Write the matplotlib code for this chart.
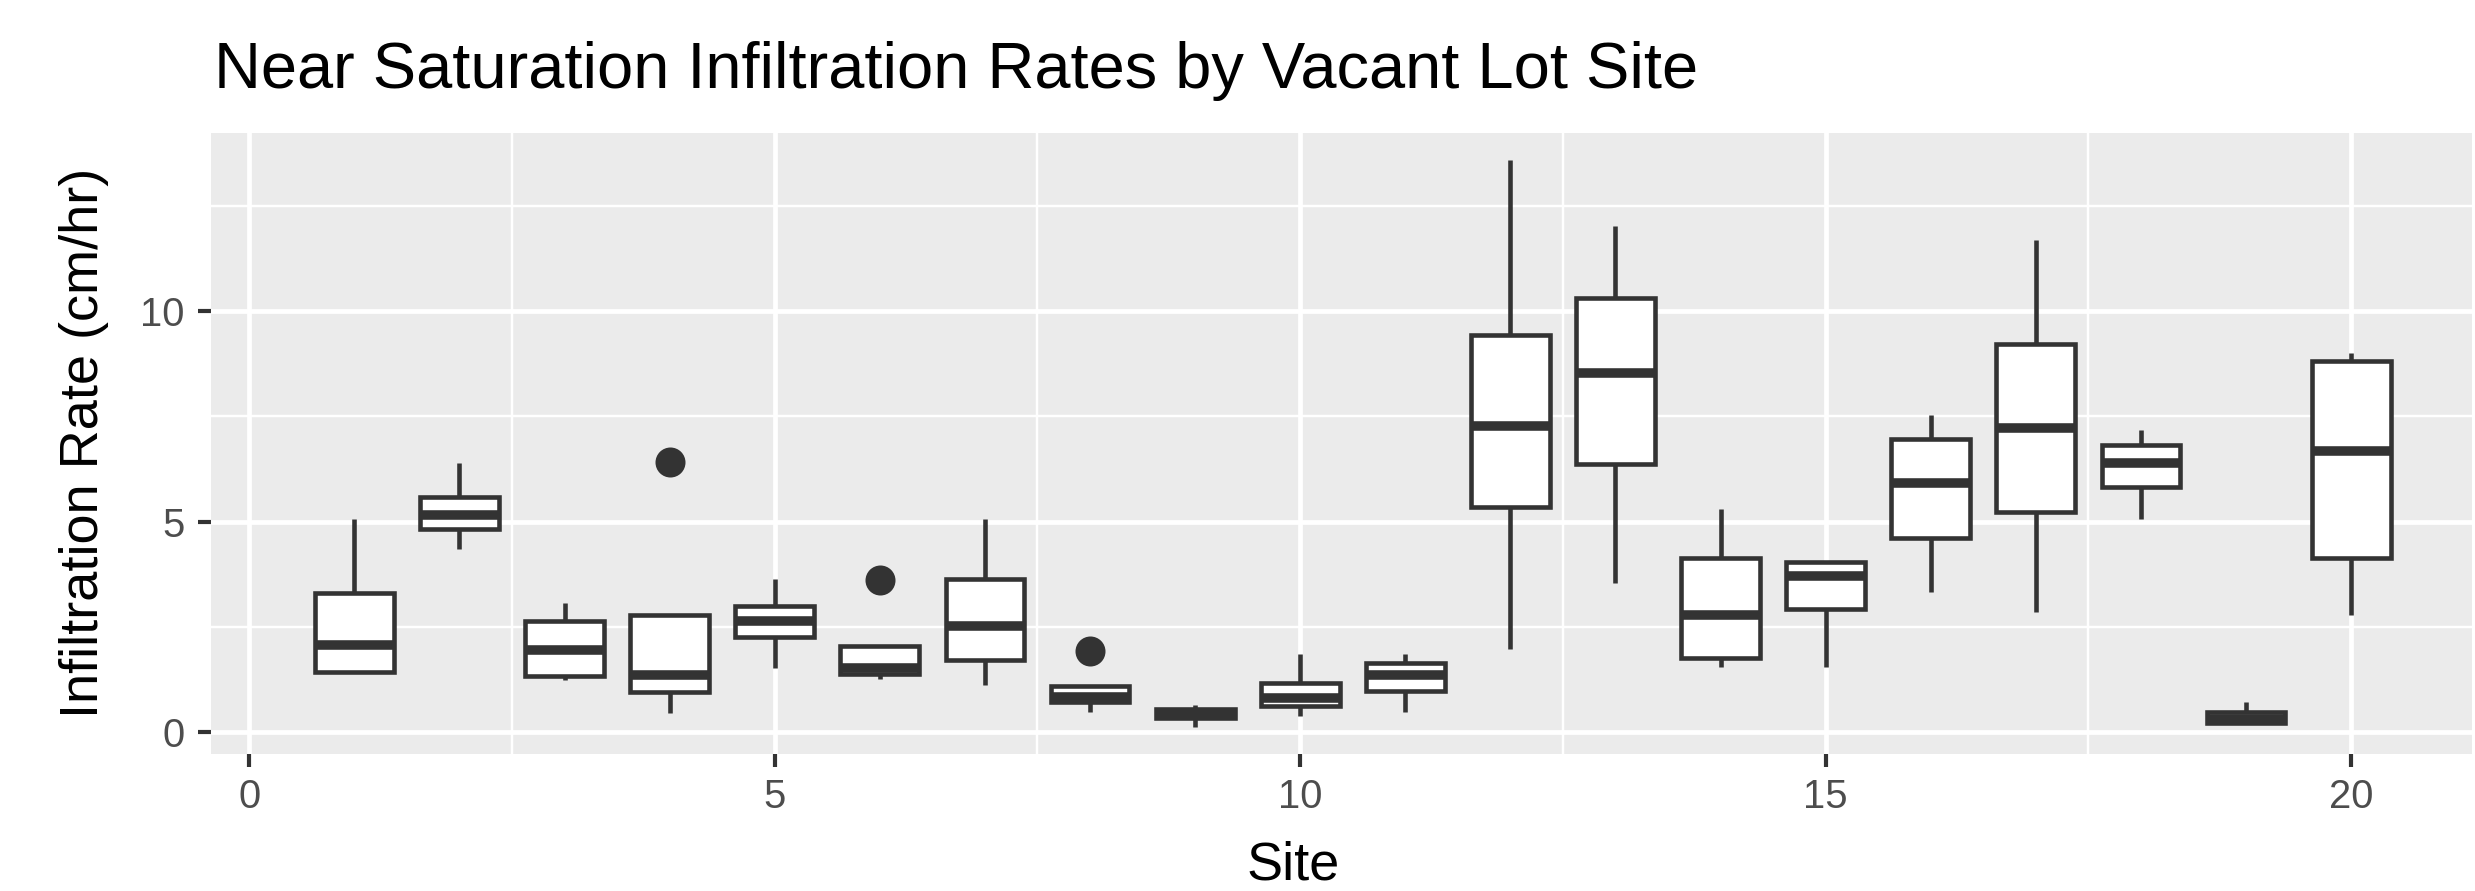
import matplotlib
matplotlib.use("Agg")
import matplotlib.pyplot as plt

# Box stats per site
sites = list(range(1, 21))
whislo = [1.43, 4.34, 1.24, 0.45, 1.52, 1.27, 1.13, 0.47, 0.12, 0.38,
          0.48, 1.98, 3.53, 1.54, 1.54, 3.32, 2.86, 5.05, 0.21, 2.77]
q1 = [1.43, 4.83, 1.33, 0.95, 2.25, 1.38, 1.71, 0.71, 0.33, 0.61,
      0.98, 5.34, 6.36, 1.77, 2.92, 4.62, 5.22, 5.81, 0.21, 4.14]
med = [2.08, 5.16, 1.94, 1.36, 2.63, 1.52, 2.53, 0.84, 0.45, 0.82,
       1.36, 7.27, 8.52, 2.79, 3.71, 5.91, 7.22, 6.38, 0.30, 6.67]
q3 = [3.30, 5.59, 2.64, 2.77, 3.00, 2.05, 3.63, 1.10, 0.56, 1.17,
      1.64, 9.44, 10.31, 4.14, 4.04, 6.96, 9.23, 6.82, 0.47, 8.81]
whishi = [5.07, 6.38, 3.06, 2.77, 3.63, 2.05, 5.07, 1.10, 0.64, 1.85,
          1.86, 13.58, 12.02, 5.31, 4.04, 7.54, 11.69, 7.17, 0.72, 9.01]
outliers = {4: [6.41], 6: [3.61], 8: [1.93]}

title = "Near Saturation Infiltration Rates by Vacant Lot Site"
xlabel = "Site"
ylabel = "Infiltration Rate (cm/hr)"

plt.rcParams['font.family'] = ['Liberation Sans', 'DejaVu Sans']

W, H, DPI = 2475, 891, 300
fig = plt.figure(figsize=(W / DPI, H / DPI), dpi=DPI)
ax = fig.add_axes([211 / W, (H - 754) / H, (2472 - 211) / W, (754 - 133) / H])
ax.set_facecolor("#EBEBEB")

stats = []
for i, s in enumerate(sites):
    stats.append({
        "med": med[i], "q1": q1[i], "q3": q3[i],
        "whislo": whislo[i], "whishi": whishi[i],
        "fliers": outliers.get(s, []),
    })

dark = "#333333"
ax.bxp(stats, positions=sites, widths=0.75, patch_artist=True,
       showcaps=False,
       boxprops=dict(facecolor="white", edgecolor=dark, linewidth=1.1),
       medianprops=dict(color=dark, linewidth=2.3, solid_capstyle="butt"),
       whiskerprops=dict(color=dark, linewidth=1.1, solid_capstyle="butt"),
       flierprops=dict(marker="o", markerfacecolor=dark, markeredgecolor=dark,
                       markersize=6.2, linestyle="none"),
       zorder=3)

ax.set_xlim(-0.364, 21.15)
ax.set_ylim(-0.52, 14.23)

ax.set_xticks([0, 5, 10, 15, 20])
ax.set_xticklabels(["0", "5", "10", "15", "20"])
ax.set_yticks([0, 5, 10])
ax.set_yticklabels(["0", "5", "10"])
ax.set_xticks([2.5, 7.5, 12.5, 17.5], minor=True)
ax.set_yticks([2.5, 7.5, 12.5], minor=True)

ax.grid(which="major", color="white", linewidth=1.15, zorder=0)
ax.grid(which="minor", color="white", linewidth=0.58, zorder=0)
ax.set_axisbelow(True)
for sp in ax.spines.values():
    sp.set_visible(False)

ax.tick_params(which="major", length=3.1, width=1.0, color=dark,
               labelsize=9.6, labelcolor="#4D4D4D")
ax.tick_params(axis="x", which="major", pad=2.6)
ax.tick_params(axis="y", which="major", pad=3.2)
ax.tick_params(which="minor", length=0)

fig.text(214 / W, (H - 88) / H, title, fontsize=15.6, ha="left", va="baseline")
fig.text(1293 / W, (H - 879) / H, xlabel, fontsize=13, ha="center", va="baseline")
fig.text(84 / W, (H - 443) / H, ylabel, fontsize=13, rotation=90,
         ha="center", va="center")

fig.savefig("out.png", dpi=DPI)
